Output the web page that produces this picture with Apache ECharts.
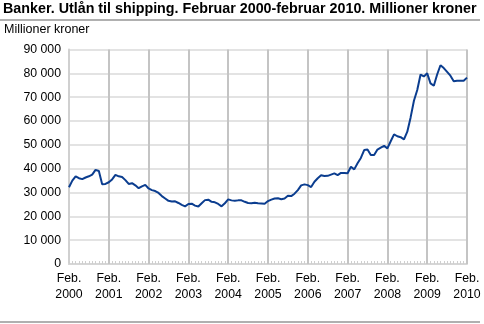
<!DOCTYPE html>
<html>
<head>
<meta charset="utf-8">
<script src="https://cdn.jsdelivr.net/npm/echarts@6/dist/echarts.min.js"></script>
<style>
  html, body { margin: 0; padding: 0; background: #fff; }
  #chart { width: 484px; height: 324px; }
</style>
</head>
<body>
<div id="chart"></div>
<script>
// monthly, Feb 2000 - Feb 2010 (millioner kroner)
const years = [2000, 2001, 2002, 2003, 2004, 2005, 2006, 2007, 2008, 2009, 2010]
const values = [
  32200, 35000, 36800, 36000, 35600, 36300, 36800, 37500, 39500, 39000, 33500, 33600,
  34300, 35500, 37400, 36800, 36500, 35200, 33600, 33900, 33000, 31800, 32600, 33200,
  31700, 31000, 30600, 29800, 28500, 27500, 26500, 26200, 26300, 25600, 24800, 24200,
  25200, 25300, 24500, 24100, 25500, 26800, 27000, 26100, 25900, 25200, 24200, 25500,
  27100, 26700, 26500, 26700, 26700, 26100, 25600, 25500, 25700, 25500, 25400, 25300,
  26400, 27000, 27500, 27600, 27200, 27500, 28600, 28500, 29500, 31000, 33000, 33400,
  33100, 32300, 34500, 36000, 37200, 36900, 37000, 37500, 38000, 37300, 38200, 38200,
  38100, 40800, 39700, 42300, 44500, 47800, 48000, 45700, 45700, 48000, 48800, 49600,
  48500, 51500, 54400, 53600, 53200, 52300, 55500, 61500, 68500, 73000, 79500, 78700,
  80000, 75800, 74800, 79500, 83400, 82200, 80600, 79000, 76700, 76900, 76900, 76900,
  78200
]
const yTicks = [0, 10000, 20000, 30000, 40000, 50000, 60000, 70000, 80000, 90000]

// one category per month, labelled at each February
const months = values.map((v, i) => i % 12 === 0 ? 'Feb.\n' + years[i / 12] : '')
const febIdx = years.map((y, k) => k * 12)

const chart = echarts.init(document.getElementById('chart'))
chart.setOption({
  animation: false,
  title: {
    text: 'Banker. Utlån til shipping. Februar 2000-februar 2010. Millioner kroner',
    left: 3,
    top: 2,
    padding: 0,
    textStyle: {
      fontFamily: 'Liberation Sans',
      fontSize: 14.3,
      fontWeight: 'bold',
      color: '#000'
    }
  },
  graphic: [
    {
      type: 'rect',
      shape: { x: 0, y: 19, width: 480, height: 2 },
      style: { fill: '#b0b0b0' }
    },
    {
      type: 'rect',
      shape: { x: 0, y: 321, width: 480, height: 2 },
      style: { fill: '#b0b0b0' }
    },
    {
      type: 'text',
      left: 4,
      top: 23,
      style: {
        text: 'Millioner kroner',
        font: '12.5px "Liberation Sans"',
        fill: '#000'
      }
    }
  ],
  grid: {
    left: 69,
    right: 17,
    top: 49.5,
    bottom: 60
  },
  xAxis: {
    type: 'category',
    boundaryGap: false,
    data: months,
    axisLine: {
      lineStyle: { color: '#d6d6d6', width: 2 }
    },
    axisTick: {
      show: true,
      interval: 0,
      length: 3,
      inside: true,
      lineStyle: { color: '#cfcfcf' }
    },
    axisLabel: {
      interval: 11,
      color: '#000',
      fontFamily: 'Liberation Sans',
      fontSize: 12.3,
      lineHeight: 16,
      margin: 7
    },
    splitLine: { show: false }
  },
  yAxis: {
    type: 'value',
    min: yTicks[0],
    max: yTicks[yTicks.length - 1],
    interval: 10000,
    axisLine: {
      show: true,
      lineStyle: { color: '#d0d0d0', width: 2 }
    },
    axisTick: { show: false },
    axisLabel: {
      color: '#000',
      fontFamily: 'Liberation Sans',
      fontSize: 12.3,
      margin: 8,
      formatter: v => String(v).replace(/\B(?=(\d{3})+(?!\d))/g, ' ')
    },
    splitLine: {
      lineStyle: { color: '#e3e3e3', width: 2 }
    }
  },
  series: [
    {
      type: 'line',
      data: values,
      symbol: 'none',
      lineStyle: { color: '#0b3d8f', width: 2 },
      z: 10,
      // yearly vertical grid lines at each February
      markLine: {
        silent: true,
        symbol: 'none',
        label: { show: false },
        lineStyle: { color: 'rgb(196,196,196)', width: 2, type: 'solid', opacity: 1 },
        data: febIdx.slice(1).map(i => ({ xAxis: i }))
      }
    }
  ]
})
</script>
</body>
</html>
